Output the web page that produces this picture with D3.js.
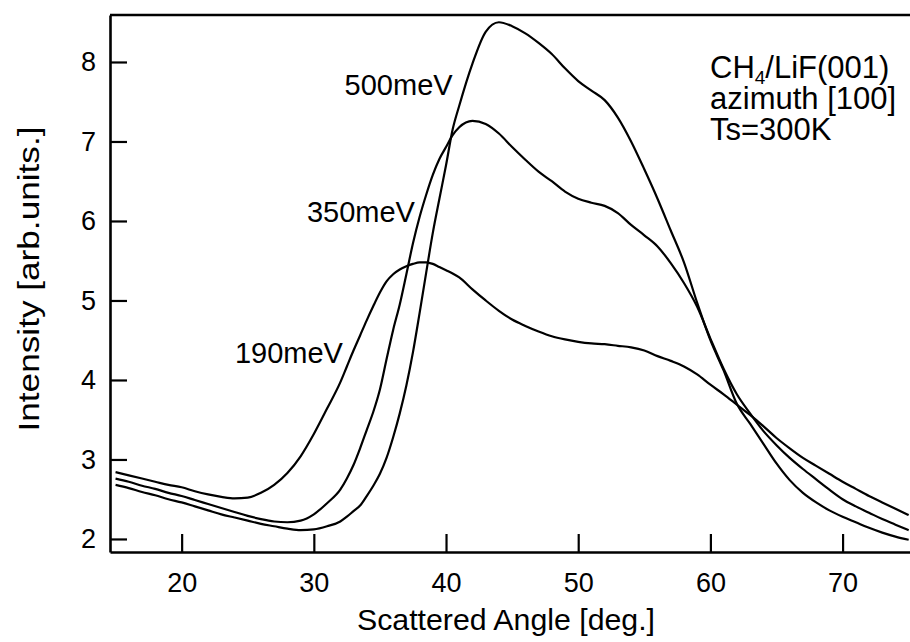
<!DOCTYPE html>
<html lang="en">
  <head>
    <meta charset="UTF-8" />
    <title>CH4/LiF(001) scattering</title>
    <script src="https://cdn.jsdelivr.net/npm/d3@7/dist/d3.min.js"></script>
    <style>
      body {
        margin: 0;
        background: #fff;
      }
      text {
        font-family: "Liberation Sans", Arial, Helvetica, sans-serif;
        fill: #000;
      }
    </style>
  </head>
  <body>
    <div id="wrapper"></div>
    <script>
      // scattered angle (deg.), shared by all three curves
      const angles = [
        15, 16, 17, 18, 19, 20, 21, 22, 23, 24, 25, 26, 27, 28, 29, 30, 31, 32,
        32.5, 33, 33.5, 34, 34.5, 35, 35.5, 36, 36.5, 37, 37.5, 38, 38.5, 39,
        39.5, 40, 40.5, 41, 42, 43, 44, 45, 46, 47, 48, 49, 50, 51, 52, 53, 54,
        55, 56, 57, 58, 59, 60, 61, 62, 63, 64, 65, 66, 67, 68, 69, 70, 71, 72,
        73, 74, 75,
      ];

      const intensity190 = [
        2.84, 2.8, 2.76, 2.72, 2.68, 2.65, 2.6, 2.56, 2.53, 2.51, 2.52, 2.58,
        2.68, 2.83, 3.04, 3.32, 3.64, 3.97, 4.17, 4.37, 4.56, 4.75, 4.93, 5.1,
        5.24, 5.33, 5.39, 5.43, 5.46, 5.48, 5.48, 5.46, 5.42, 5.38, 5.34, 5.29,
        5.14, 5.0, 4.87, 4.76, 4.68, 4.61, 4.55, 4.51, 4.48, 4.46, 4.45, 4.43,
        4.41, 4.37, 4.3, 4.24, 4.17, 4.07, 3.94, 3.82, 3.69, 3.56, 3.42, 3.27,
        3.14, 3.02, 2.92, 2.82, 2.72, 2.63, 2.54, 2.46, 2.38, 2.3,
      ];

      const intensity350 = [
        2.76, 2.72, 2.67, 2.63, 2.58, 2.54, 2.49, 2.44, 2.39, 2.34, 2.29, 2.25,
        2.22, 2.21, 2.23, 2.31, 2.45, 2.62, 2.76, 2.93, 3.14, 3.37, 3.6, 3.88,
        4.26, 4.63, 4.95, 5.33, 5.72, 6.05, 6.33, 6.58, 6.78, 6.93, 7.08, 7.18,
        7.26, 7.22, 7.1, 6.93, 6.77, 6.62, 6.5, 6.37, 6.28, 6.23, 6.19, 6.1,
        5.95, 5.82, 5.68, 5.47, 5.22, 4.92, 4.52, 4.14, 3.82, 3.58, 3.36, 3.18,
        3.02, 2.88, 2.75, 2.62, 2.5, 2.41, 2.33, 2.25, 2.18, 2.11,
      ];

      const intensity500 = [
        2.68, 2.64, 2.59, 2.55, 2.5, 2.46, 2.41, 2.36, 2.31, 2.27, 2.23, 2.19,
        2.16, 2.13, 2.11, 2.12, 2.16, 2.22, 2.28, 2.35, 2.42, 2.54, 2.67, 2.82,
        3.02, 3.28, 3.58, 3.93, 4.35, 4.84, 5.35, 5.85, 6.28, 6.7, 7.15, 7.45,
        7.98, 8.38, 8.5, 8.45, 8.36, 8.24, 8.1, 7.92, 7.76, 7.64, 7.52, 7.3,
        7.0, 6.65, 6.28, 5.88, 5.48, 4.97, 4.5, 4.12, 3.7, 3.45, 3.2, 2.95,
        2.74, 2.58, 2.46, 2.36, 2.28, 2.21, 2.14, 2.08, 2.03, 1.99,
      ];

      const seriesNames = ["190meV", "350meV", "500meV"];
      const xTicks = [20, 30, 40, 50, 60, 70];
      const yTicks = [2, 3, 4, 5, 6, 7, 8];
      const noteLines = ["/LiF(001)", "azimuth [100]", "Ts=300K"];

      let dimensions = {
        width: 910,
        height: 642,
        margin: { top: 15, right: 0, bottom: 90, left: 110 },
      };
      dimensions.boundedWidth =
        dimensions.width - dimensions.margin.left - dimensions.margin.right;
      dimensions.boundedHeight =
        dimensions.height - dimensions.margin.top - dimensions.margin.bottom;

      const svg = d3
        .select("#wrapper")
        .append("svg")
        .attr("width", dimensions.width)
        .attr("height", dimensions.height);

      const bounds = svg
        .append("g")
        .attr(
          "transform",
          `translate(${dimensions.margin.left},${dimensions.margin.top})`
        );

      const xScale = d3
        .scaleLinear()
        .domain([14.58, 75.1])
        .range([0, dimensions.boundedWidth]);

      const yScale = d3
        .scaleLinear()
        .domain([1.836, 8.591])
        .range([dimensions.boundedHeight, 0]);

      bounds
        .append("clipPath")
        .attr("id", "plot-clip")
        .append("rect")
        .attr("width", dimensions.boundedWidth)
        .attr("height", dimensions.boundedHeight);

      const allSeries = [intensity190, intensity350, intensity500];

      const lineGenerator = d3
        .line()
        .x((d, i) => xScale(angles[i]))
        .y((d) => yScale(d))
        .curve(d3.curveMonotoneX);

      bounds
        .append("g")
        .attr("clip-path", "url(#plot-clip)")
        .selectAll("path")
        .data(allSeries)
        .join("path")
        .attr("d", (d) => lineGenerator(d))
        .attr("fill", "none")
        .attr("stroke", "#000")
        .attr("stroke-width", 2.2)
        .attr("stroke-linejoin", "round");

      // axes, ticks point inward
      const xAxisGenerator = d3
        .axisBottom(xScale)
        .tickValues(xTicks)
        .tickFormat(d3.format("d"))
        .tickSizeInner(-18)
        .tickSizeOuter(0)
        .tickPadding(21);
      const xAxis = bounds
        .append("g")
        .attr("transform", `translate(0,${dimensions.boundedHeight})`)
        .call(xAxisGenerator);

      const yAxisGenerator = d3
        .axisLeft(yScale)
        .tickValues(yTicks)
        .tickFormat(d3.format("d"))
        .tickSizeInner(-17)
        .tickSizeOuter(0)
        .tickPadding(14);
      const yAxis = bounds.append("g").call(yAxisGenerator);

      [xAxis, yAxis].forEach((axis) => {
        axis.select(".domain").attr("stroke", "#000").attr("stroke-width", 2.6);
        axis
          .selectAll(".tick line")
          .attr("stroke", "#000")
          .attr("stroke-width", 2.2);
        axis
          .selectAll(".tick text")
          .attr("font-family", "'Liberation Sans', Arial, sans-serif")
          .attr("font-size", 27)
          .attr("fill", "#000");
      });

      // top frame line
      bounds
        .append("line")
        .attr("x1", 0)
        .attr("x2", dimensions.boundedWidth)
        .attr("y1", 0)
        .attr("y2", 0)
        .attr("stroke", "#000")
        .attr("stroke-width", 2.6);

      // axis titles
      svg
        .append("text")
        .attr("x", 506)
        .attr("y", 630)
        .attr("text-anchor", "middle")
        .attr("font-size", 30)
        .attr("textLength", 298)
        .attr("lengthAdjust", "spacingAndGlyphs")
        .text("Scattered Angle [deg.]");

      svg
        .append("text")
        .attr("transform", "translate(39,279) rotate(-90)")
        .attr("text-anchor", "middle")
        .attr("font-size", 30)
        .attr("textLength", 305)
        .attr("lengthAdjust", "spacingAndGlyphs")
        .text("Intensity [arb.units.]");

      // energy labels, placed left of each curve
      const labelSpots = [
        { angle: 32.2, value: 4.21 },
        { angle: 37.65, value: 5.99 },
        { angle: 40.5, value: 7.59 },
      ];
      bounds
        .selectAll(".energy")
        .data(seriesNames)
        .join("text")
        .attr("class", "energy")
        .attr("x", (d, i) => xScale(labelSpots[i].angle))
        .attr("y", (d, i) => yScale(labelSpots[i].value))
        .attr("text-anchor", "end")
        .attr("font-size", 29)
        .text((d) => d);

      // sample description, one text per line
      const noteX = 600;
      noteLines.forEach((line, i) => {
        const t = bounds
          .append("text")
          .attr("x", noteX)
          .attr("y", 63 + i * 31)
          .attr("font-size", 31);
        if (i === 0) {
          t.append("tspan").text("CH");
          t.append("tspan").attr("font-size", 19).attr("dy", 6).text("4");
          t.append("tspan").attr("dy", -6).text(line);
        } else {
          t.text(line);
        }
      });
    </script>
  </body>
</html>
